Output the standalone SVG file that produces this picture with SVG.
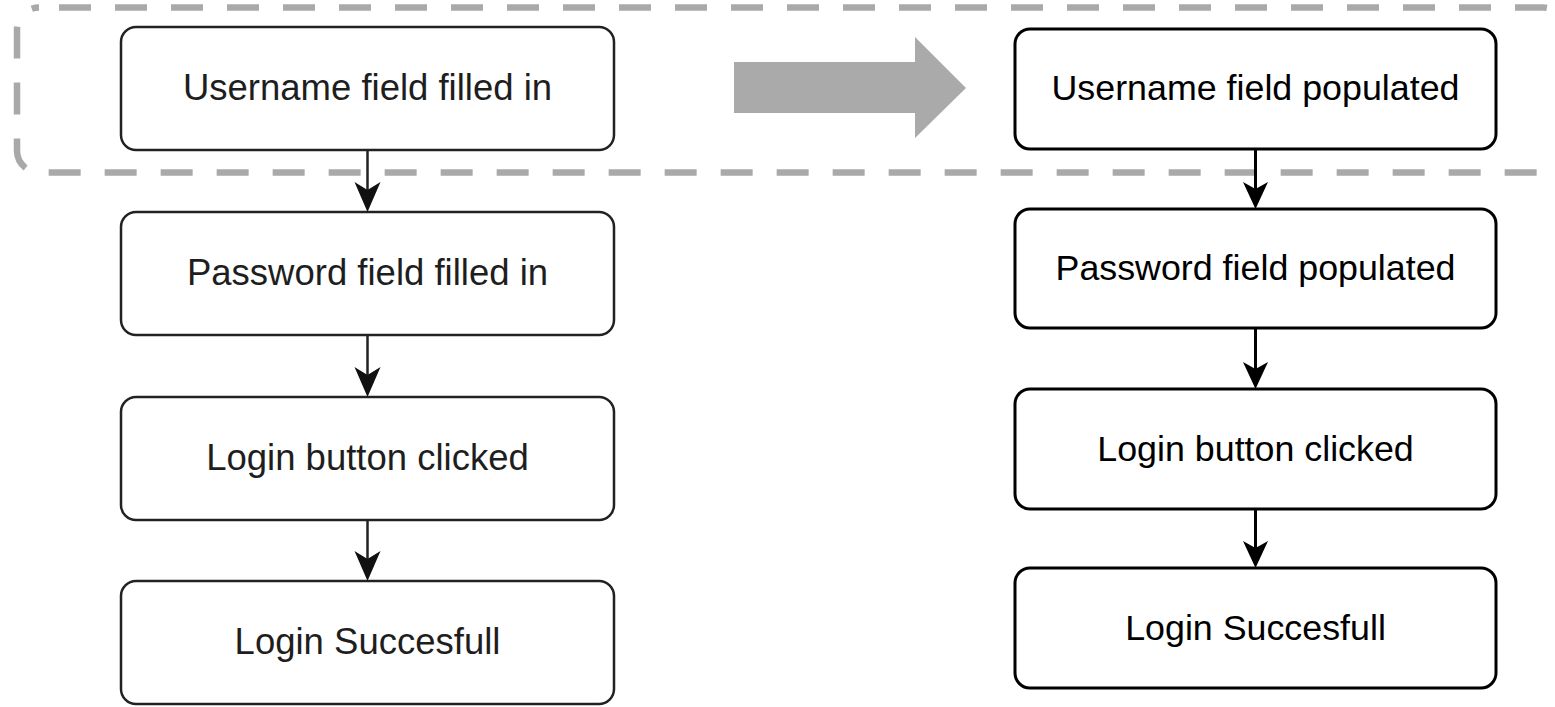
<svg xmlns="http://www.w3.org/2000/svg" width="1555" height="707" viewBox="0 0 1555 707">
  <style>
    .box-l { fill: #ffffff; stroke: #222222; stroke-width: 2.5; }
    .box-r { fill: #ffffff; stroke: #000000; stroke-width: 3; }
    .lbl { font-family: "Liberation Sans", Arial, sans-serif; text-anchor: middle; }
    .lbl-l { font-size: 36.5px; fill: #1e1e1e; }
    .lbl-r { font-size: 35.8px; fill: #000000; }
    .edge-l { stroke: #222222; stroke-width: 2.5; fill: none; }
    .edge-r { stroke: #000000; stroke-width: 3; fill: none; }
    .head-l { fill: #111111; }
    .head-r { fill: #000000; }
  </style>

  <rect width="1555" height="707" fill="#ffffff"/>

  <!-- dashed grouping frame around the first step (open to the right edge) -->
  <rect id="step-group" x="17" y="7.5" width="1548" height="165" rx="22" ry="22"
        fill="none" stroke="#a9a9a9" stroke-width="6.5" stroke-dasharray="32,24" stroke-dashoffset="-20"/>

  <!-- grey block arrow between the two flows -->
  <polygon id="transition-arrow" points="734,62 915,62 915,37 966,88 915,138 915,113 734,113" fill="#aaaaaa"/>

  <!-- left flow -->
  <g id="l-username">
    <rect class="box-l" x="121" y="27" width="493" height="123" rx="15" ry="15"/>
    <text class="lbl lbl-l" x="367.5" y="100">Username field filled in</text>
  </g>
  <g id="l-password">
    <rect class="box-l" x="121" y="212" width="493" height="123" rx="15" ry="15"/>
    <text class="lbl lbl-l" x="367.5" y="285">Password field filled in</text>
  </g>
  <g id="l-button">
    <rect class="box-l" x="121" y="397" width="493" height="123" rx="15" ry="15"/>
    <text class="lbl lbl-l" x="367.5" y="470">Login button clicked</text>
  </g>
  <g id="l-success">
    <rect class="box-l" x="121" y="581" width="493" height="123" rx="15" ry="15"/>
    <text class="lbl lbl-l" x="367.5" y="654">Login Succesfull</text>
  </g>

  <!-- right flow -->
  <g id="r-username">
    <rect class="box-r" x="1015" y="29" width="481" height="120" rx="15" ry="15"/>
    <text class="lbl lbl-r" x="1255.5" y="100">Username field populated</text>
  </g>
  <g id="r-password">
    <rect class="box-r" x="1015" y="209" width="481" height="119" rx="15" ry="15"/>
    <text class="lbl lbl-r" x="1255.5" y="280">Password field populated</text>
  </g>
  <g id="r-button">
    <rect class="box-r" x="1015" y="389" width="481" height="120" rx="15" ry="15"/>
    <text class="lbl lbl-r" x="1255.5" y="461">Login button clicked</text>
  </g>
  <g id="r-success">
    <rect class="box-r" x="1015" y="568" width="481" height="120" rx="15" ry="15"/>
    <text class="lbl lbl-r" x="1255.5" y="640">Login Succesfull</text>
  </g>

  <!-- connectors -->
  <g id="connectors">
    <path class="edge-l" d="M367.5,150 V192"/>
    <path class="head-l" d="M367.5,212 L354.5,182 L367.5,190 L380.5,182 Z"/>
    <path class="edge-l" d="M367.5,335 V377"/>
    <path class="head-l" d="M367.5,397 L354.5,367 L367.5,375 L380.5,367 Z"/>
    <path class="edge-l" d="M367.5,520 V561"/>
    <path class="head-l" d="M367.5,581 L354.5,551 L367.5,559 L380.5,551 Z"/>

    <path class="edge-r" d="M1255.5,149 V190"/>
    <path class="head-r" d="M1255.5,209 L1243,182 L1255.5,189 L1268,182 Z"/>
    <path class="edge-r" d="M1255.5,328 V370"/>
    <path class="head-r" d="M1255.5,389 L1243,362 L1255.5,369 L1268,362 Z"/>
    <path class="edge-r" d="M1255.5,509 V549"/>
    <path class="head-r" d="M1255.5,568 L1243,541 L1255.5,548 L1268,541 Z"/>
  </g>
</svg>
